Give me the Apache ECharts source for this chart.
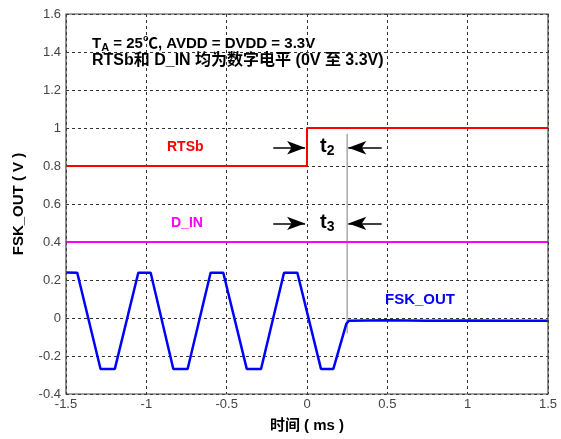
<!DOCTYPE html>
<html><head><meta charset="utf-8">
<script src="https://cdn.jsdelivr.net/npm/echarts@6/dist/echarts.min.js"></script>
<style>html,body{margin:0;padding:0;background:#fff}#c{width:561px;height:439px}</style>
</head><body><div id="c"></div>
<script>
var xTicks = [-1.5, -1, -0.5, 0, 0.5, 1, 1.5];
var yTicks = [-0.4, -0.2, 0, 0.2, 0.4, 0.6, 0.8, 1, 1.2, 1.4, 1.6];
var fskTime = [-1.5,-1.43,-1.285,-1.196,-1.05,-0.973,-0.832,-0.743,-0.60,-0.521,-0.375,-0.286,-0.143,-0.06,0.087,0.164,0.245,0.26,0.5,0.75,1.0,1.25,1.5];
var fskVal  = [0.24,0.238,-0.268,-0.268,0.238,0.238,-0.268,-0.268,0.238,0.238,-0.268,-0.268,0.238,0.238,-0.268,-0.268,-0.03,-0.015,-0.012,-0.015,-0.013,-0.015,-0.014];
var rtsTime = [-1.5, 0, 0, 1.5];
var rtsVal  = [0.8, 0.8, 1.0, 1.0];
var dinTime = [-1.5, 1.5];
var dinVal  = [0.4, 0.4];
var markTime = [0.25, 0.25];
var markVal  = [0.97, -0.08];
var t2Arrows = [[-0.21, 0.896, -0.012, 0.896], [0.465, 0.896, 0.257, 0.896]];
var t3Arrows = [[-0.21, 0.498, -0.012, 0.498], [0.465, 0.498, 0.257, 0.498]];

function zip(a, b) { return a.map(function (v, i) { return [v, b[i]]; }); }
function arrowLines(arr) {
  return arr.map(function (a) {
    return [{ coord: [a[0], a[1]], symbol: 'none' }, { coord: [a[2], a[3]], symbol: 'arrow', symbolSize: [10, 18] }];
  });
}
var chart = echarts.init(document.getElementById('c'), null, { renderer: 'canvas' });
var fontL = '"Liberation Sans", Arial, "Noto Sans CJK SC", sans-serif';
var option = {
  animation: false,
  grid: { left: 66, right: 13, top: 14, bottom: 45 },
  xAxis: {
    type: 'value', min: -1.5, max: 1.5, interval: 0.5,
    name: '时间 ( ms )', nameLocation: 'middle', nameGap: 24,
    nameTextStyle: { fontFamily: fontL, fontWeight: 'bold', fontSize: 15, color: '#000' },
    axisLine: { show: false },
    axisTick: { show: false },
    axisLabel: { color: '#444', fontFamily: fontL, fontSize: 13, margin: 4 },
    splitLine: { show: true, lineStyle: { color: '#333', type: [3, 3], width: 1 } }
  },
  yAxis: {
    type: 'value', min: -0.4, max: 1.6, interval: 0.2,
    name: 'FSK_OUT ( V )', nameLocation: 'middle', nameGap: 40,
    nameTextStyle: { fontFamily: fontL, fontWeight: 'bold', fontSize: 15, color: '#000' },
    axisLine: { show: false },
    axisTick: { show: false },
    axisLabel: { color: '#444', fontFamily: fontL, fontSize: 13, margin: 5,
      formatter: function (v) { return String(Math.round(v * 10) / 10); } },
    splitLine: { show: true, lineStyle: { color: '#333', type: [3, 3], width: 1 } }
  },
  series: [
    { type: 'line', data: zip(rtsTime, rtsVal), symbol: 'none', lineStyle: { color: '#ff0000', width: 2 }, z: 3 },
    { type: 'line', data: zip(dinTime, dinVal), symbol: 'none', lineStyle: { color: '#ff00ff', width: 2 }, z: 3 },
    { type: 'line', data: zip(markTime, markVal), symbol: 'none', lineStyle: { color: '#aaaaaa', width: 1.5 }, z: 2 },
    { type: 'line', data: zip(fskTime, fskVal), symbol: 'none', lineStyle: { color: '#0000ff', width: 2.5 }, z: 4,
      markLine: { silent: true, animation: false, label: { show: false },
        lineStyle: { color: '#000', width: 1.5, type: 'solid' },
        data: arrowLines(t2Arrows).concat(arrowLines(t3Arrows)) } }
  ],
  graphic: [
    { type: 'rect', shape: { x: 66, y: 14, width: 482, height: 380 }, style: { fill: 'none', stroke: '#444', lineWidth: 1.2 }, z: 10 },
    { type: 'text', left: 92, top: 36, z: 20, style: {
        text: '{b|T}{s|A}{b| = 25℃, AVDD = DVDD = 3.3V}',
        rich: { b: { fontFamily: fontL, fontWeight: 'bold', fontSize: 15, fill: '#000' },
                s: { fontFamily: fontL, fontWeight: 'bold', fontSize: 11, fill: '#000', padding: [8, 0, 0, 0] } } } },
    { type: 'text', left: 92, top: 53, z: 20, style: {
        text: 'RTSb和 D_IN 均为数字电平 (0V 至 3.3V)',
        font: 'bold 16px "Liberation Sans", "Noto Sans CJK SC", sans-serif', fill: '#000' } },
    { type: 'text', left: 167, top: 140, z: 20, style: { text: 'RTSb', font: 'bold 14px "Liberation Sans", sans-serif', fill: '#ff0000' } },
    { type: 'text', left: 171, top: 216, z: 20, style: { text: 'D_IN', font: 'bold 14px "Liberation Sans", sans-serif', fill: '#ff00ff' } },
    { type: 'text', left: 385, top: 292, z: 20, style: { text: 'FSK_OUT', font: 'bold 15px "Liberation Sans", sans-serif', fill: '#0000ff' } },
    { type: 'text', left: 320, top: 136, z: 20, style: {
        text: '{b|t}{s|2}', rich: { b: { fontFamily: fontL, fontWeight: 'bold', fontSize: 20, fill: '#000' },
        s: { fontFamily: fontL, fontWeight: 'bold', fontSize: 14, fill: '#000', padding: [10, 0, 0, 0] } } } },
    { type: 'text', left: 320, top: 212, z: 20, style: {
        text: '{b|t}{s|3}', rich: { b: { fontFamily: fontL, fontWeight: 'bold', fontSize: 20, fill: '#000' },
        s: { fontFamily: fontL, fontWeight: 'bold', fontSize: 14, fill: '#000', padding: [10, 0, 0, 0] } } } }
  ]
};
chart.setOption(option);
</script></body></html>
